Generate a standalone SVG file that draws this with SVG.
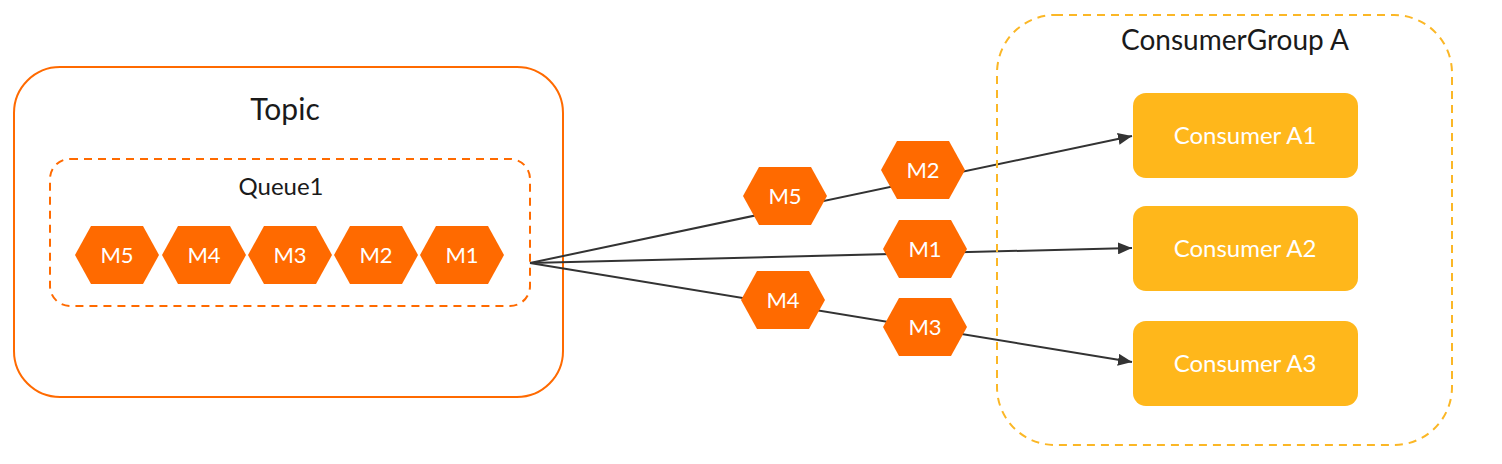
<svg xmlns="http://www.w3.org/2000/svg" width="1502" height="464" viewBox="0 0 1502 464">
<style>
text{font-family:Lato,"Open Sans","Liberation Sans",sans-serif;text-anchor:middle}
.title{fill:#1a1a1a}
.hex{fill:#FF6A00}
.hext{fill:#fff;font-size:22px}
.cons{fill:#FFB71B}
.const{fill:#fff;font-size:24px}
.conn{stroke:#333;stroke-width:2;fill:none}
</style>
<defs>
<marker id="arr" viewBox="0 0 14 12" refX="14" refY="6" markerWidth="14" markerHeight="12" markerUnits="userSpaceOnUse" orient="auto">
<path d="M0,0 L14,6 L0,12 Z" fill="#333"/>
</marker>
<polygon id="hx" points="-42,0 -26,-29 26,-29 42,0 26,29 -26,29"/>
</defs>
<rect width="1502" height="464" fill="#fff"/>
<g id="topic">
<rect x="14" y="67" width="549" height="330" rx="46" fill="none" stroke="#FF6A00" stroke-width="2"/>
<text x="285" y="120" class="title" font-size="30">Topic</text>
</g>
<g id="queue1">
<rect x="50" y="159" width="480" height="147" rx="20" fill="none" stroke="#FF6A00" stroke-width="2" stroke-dasharray="8 6"/>
<text x="281" y="195" class="title" font-size="24">Queue1</text>
</g>
<g id="q-m5"><use href="#hx" x="117" y="255" class="hex"/><text x="117" y="263" class="hext">M5</text></g>
<g id="q-m4"><use href="#hx" x="204" y="255" class="hex"/><text x="204" y="263" class="hext">M4</text></g>
<g id="q-m3"><use href="#hx" x="290" y="255" class="hex"/><text x="290" y="263" class="hext">M3</text></g>
<g id="q-m2"><use href="#hx" x="376" y="255" class="hex"/><text x="376" y="263" class="hext">M2</text></g>
<g id="q-m1"><use href="#hx" x="462" y="255" class="hex"/><text x="462" y="263" class="hext">M1</text></g>
<g id="connectors">
<line x1="530" y1="263" x2="1132" y2="136" class="conn" marker-end="url(#arr)"/>
<line x1="530" y1="263" x2="1132" y2="248" class="conn" marker-end="url(#arr)"/>
<line x1="530" y1="263" x2="1132" y2="362" class="conn" marker-end="url(#arr)"/>
</g>
<g id="f-m5"><use href="#hx" x="785" y="196" class="hex"/><text x="785" y="204" class="hext">M5</text></g>
<g id="f-m2"><use href="#hx" x="923" y="170" class="hex"/><text x="923" y="178" class="hext">M2</text></g>
<g id="f-m1"><use href="#hx" x="925" y="249" class="hex"/><text x="925" y="257" class="hext">M1</text></g>
<g id="f-m4"><use href="#hx" x="783" y="300" class="hex"/><text x="783" y="308" class="hext">M4</text></g>
<g id="f-m3"><use href="#hx" x="925" y="327" class="hex"/><text x="925" y="335" class="hext">M3</text></g>
<g id="consumergroup">
<rect x="997" y="15" width="455" height="430" rx="58" fill="none" stroke="#FBB726" stroke-width="2" stroke-dasharray="8 6"/>
<text x="1235" y="50" class="title" font-size="28">ConsumerGroup A</text>
</g>
<g id="consumer-a1"><rect x="1133" y="93" width="225" height="85" rx="13" class="cons"/><text x="1245" y="144" class="const">Consumer A1</text></g>
<g id="consumer-a2"><rect x="1133" y="206" width="225" height="85" rx="13" class="cons"/><text x="1245" y="257" class="const">Consumer A2</text></g>
<g id="consumer-a3"><rect x="1133" y="321" width="225" height="85" rx="13" class="cons"/><text x="1245" y="372" class="const">Consumer A3</text></g>
</svg>
